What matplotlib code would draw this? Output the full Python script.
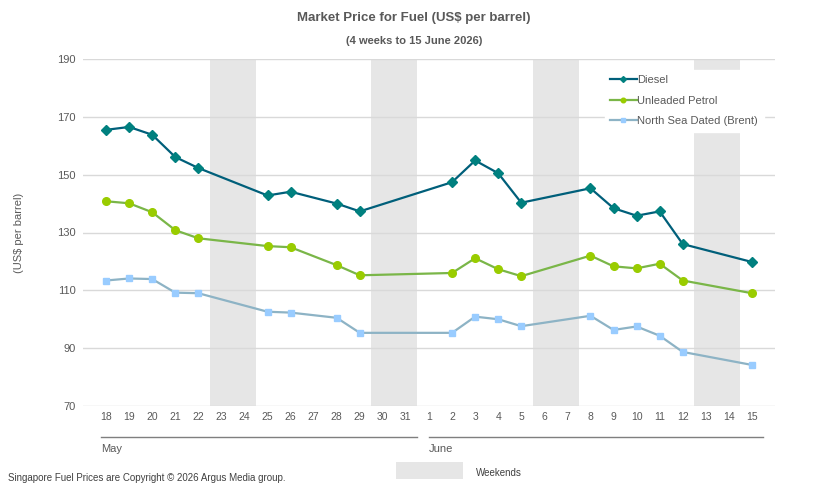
import matplotlib as mpl
mpl.use('Agg')

import matplotlib.pyplot as plt
from matplotlib.patches import Rectangle

# day labels along the x axis (18 May .. 15 June 2026)
days = [18, 19, 20, 21, 22, 23, 24, 25, 26, 27, 28, 29, 30, 31,
        1, 2, 3, 4, 5, 6, 7, 8, 9, 10, 11, 12, 13, 14, 15]
weekends = [(23, 24, 'May'), (30, 31, 'May'), (6, 7, 'June'), (13, 14, 'June')]

# trading days with prices (index into days)
trade_idx = [0, 1, 2, 3, 4, 7, 8, 10, 11, 15, 16, 17, 18, 21, 22, 23, 24, 25, 28]

diesel = [165.5, 166.5, 163.8, 156.1, 152.3, 142.8, 144.1, 140.0, 137.3,
          147.4, 154.9, 150.5, 140.3, 145.3, 138.4, 135.8, 137.3, 126.0, 119.8]
petrol = [140.8, 140.1, 137.0, 130.8, 128.0, 125.3, 124.9, 118.7, 115.2,
          116.0, 121.1, 117.3, 114.9, 122.0, 118.3, 117.6, 119.2, 113.4, 109.0]
brent = [113.4, 114.1, 113.9, 109.2, 109.0, 102.6, 102.3, 100.5, 95.3,
         95.3, 100.9, 100.0, 97.6, 101.2, 96.3, 97.5, 94.3, 88.7, 84.2]

TXT = '#595959'
GRID = '#d9d9d9'
SHADE = '#e6e6e6'
FONT = 'Liberation Sans'
NARROW = ['Liberation Sans Narrow', 'Liberation Sans', 'DejaVu Sans']

fig = plt.figure(figsize=(8.29, 4.94), dpi=100)
ax = fig.add_axes([83 / 829, 1 - 406 / 494, (775 - 83) / 829, 347 / 494])

# weekend shading
for d1, d2, m in weekends:
    off = 0 if m == 'May' else 14
    i1 = days.index(d1, off)
    i2 = days.index(d2, off)
    ax.axvspan(i1 - 0.5, i2 + 0.5, color=SHADE, lw=0, zorder=0)

ax.plot(trade_idx, diesel, color='#005f7a', lw=1.6, marker='D', ms=5,
        mfc='#00807f', mec='#00807f', label='Diesel', zorder=4)
ax.plot(trade_idx, petrol, color='#7ab648', lw=1.6, marker='o', ms=5.5,
        mfc='#99cc00', mec='#99cc00', label='Unleaded Petrol', zorder=3)
ax.plot(trade_idx, brent, color='#8db3c5', lw=1.6, marker='s', ms=4.3,
        mfc='#99ccff', mec='#99ccff', label='North Sea Dated (Brent)', zorder=2)

ax.set_xlim(-1, 29)
ax.set_ylim(70, 190)
ax.set_yticks(range(70, 191, 20))
ax.set_xticks(range(len(days)))
ax.set_xticklabels([str(d) for d in days], family=NARROW, fontsize=7.5, color=TXT)
for lab in ax.get_yticklabels():
    lab.set_family(FONT)
    lab.set_fontsize(8)
    lab.set_color(TXT)
ax.tick_params(axis='both', length=0)
ax.tick_params(axis='x', pad=4.5)
ax.tick_params(axis='y', pad=5)
ax.grid(axis='y', color=GRID, lw=1)
ax.set_axisbelow(True)
for s in ax.spines.values():
    s.set_visible(False)

ax.set_ylabel('(US$ per barrel)', family=FONT, fontsize=8, color=TXT)
ax.yaxis.set_label_coords(-0.085, 0.5)

# month brackets under the axis
tr = ax.get_xaxis_transform()
ax.plot([-0.2, 13.5], [-0.089, -0.089], transform=tr, color='#7f7f7f', lw=1, clip_on=False)
ax.plot([14.0, 28.5], [-0.089, -0.089], transform=tr, color='#7f7f7f', lw=1, clip_on=False)
ax.text(-0.2, -0.125, 'May', transform=tr, family=NARROW, fontsize=8, color=TXT,
        ha='left', va='center')
ax.text(14.0, -0.125, 'June', transform=tr, family=NARROW, fontsize=8, color=TXT,
        ha='left', va='center')

leg = ax.legend(loc='upper left', bbox_to_anchor=(599 / 829, 1 - 64 / 494),
                bbox_transform=fig.transFigure, frameon=True, fancybox=False,
                facecolor='white', edgecolor='white', framealpha=1,
                prop={'family': FONT, 'size': 8}, handlelength=2.4,
                labelspacing=0.95, borderpad=0.5, handletextpad=0.05, markerscale=0.6)
for t in leg.get_texts():
    t.set_color(TXT)
leg.set_zorder(6)

fig.text(414 / 829, 1 - 18 / 494, 'Market Price for Fuel (US$ per barrel)',
         family=FONT, fontsize=9.5, fontweight='bold', color=TXT, ha='center', va='center')
fig.text(414 / 829, 1 - 41 / 494, '(4 weeks to 15 June 2026)',
         family=NARROW, fontsize=8, fontweight='bold', color=TXT, ha='center', va='center')
fig.text(8 / 829, 1 - 478 / 494, 'Singapore Fuel Prices are Copyright \u00a9 2026 Argus Media group.',
         family=NARROW, fontsize=7, color='#404040', ha='left', va='center')

fig.patches.append(Rectangle((396 / 829, 1 - 479 / 494), 67 / 829, 17 / 494,
                             transform=fig.transFigure, facecolor=SHADE, edgecolor='none'))
fig.text(476 / 829, 1 - 473 / 494, 'Weekends', family=NARROW, fontsize=7,
         color='#404040', ha='left', va='center')

plt.savefig('out.png', dpi=100)
